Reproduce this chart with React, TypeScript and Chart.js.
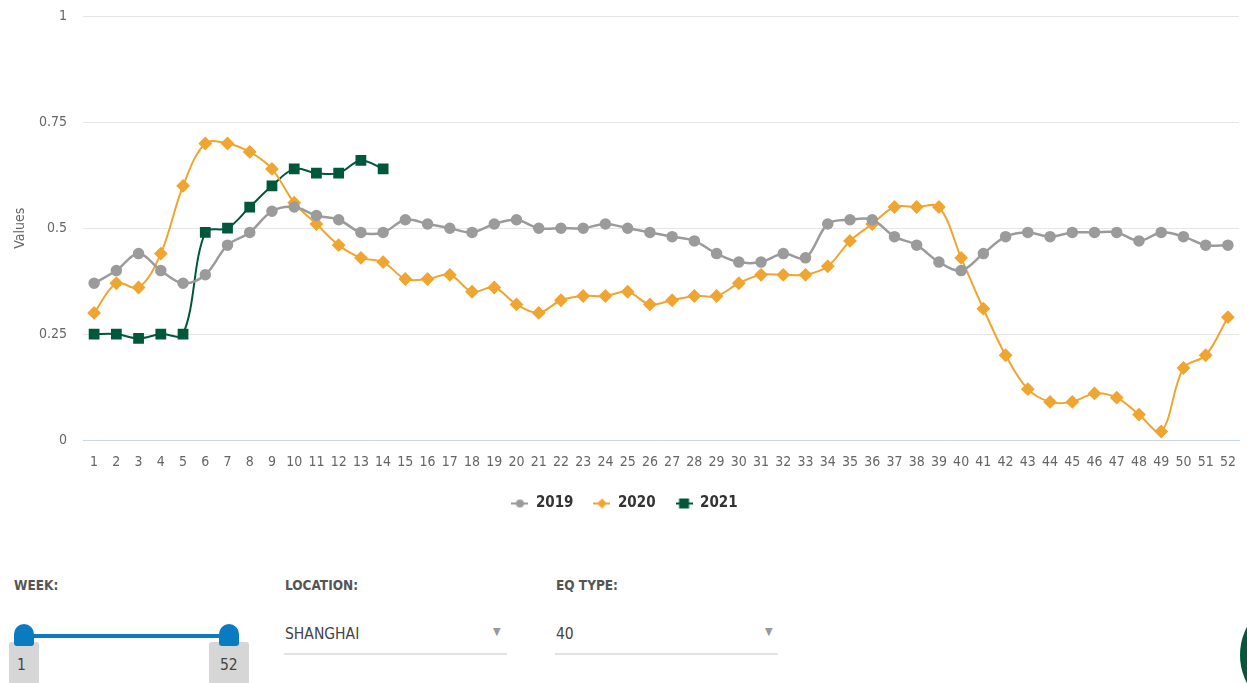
import React, { useEffect, useRef } from "react";
import { Chart, registerables } from "chart.js";

Chart.register(...registerables);

const weeks = [
  "1", "2", "3", "4", "5", "6", "7", "8", "9", "10", "11", "12", "13",
  "14", "15", "16", "17", "18", "19", "20", "21", "22", "23", "24", "25", "26",
  "27", "28", "29", "30", "31", "32", "33", "34", "35", "36", "37", "38", "39",
  "40", "41", "42", "43", "44", "45", "46", "47", "48", "49", "50", "51", "52",
];

const values2019 = [
  0.37, 0.4, 0.44, 0.4, 0.37, 0.39, 0.46, 0.49, 0.54, 0.55, 0.53, 0.52, 0.49,
  0.49, 0.52, 0.51, 0.5, 0.49, 0.51, 0.52, 0.5, 0.5, 0.5, 0.51, 0.5, 0.49,
  0.48, 0.47, 0.44, 0.42, 0.42, 0.44, 0.43, 0.51, 0.52, 0.52, 0.48, 0.46, 0.42,
  0.4, 0.44, 0.48, 0.49, 0.48, 0.49, 0.49, 0.49, 0.47, 0.49, 0.48, 0.46, 0.46,
];

const values2020 = [
  0.3, 0.37, 0.36, 0.44, 0.6, 0.7, 0.7, 0.68, 0.64, 0.56, 0.51, 0.46, 0.43,
  0.42, 0.38, 0.38, 0.39, 0.35, 0.36, 0.32, 0.3, 0.33, 0.34, 0.34, 0.35, 0.32,
  0.33, 0.34, 0.34, 0.37, 0.39, 0.39, 0.39, 0.41, 0.47, 0.51, 0.55, 0.55, 0.55,
  0.43, 0.31, 0.2, 0.12, 0.09, 0.09, 0.11, 0.1, 0.06, 0.02, 0.17, 0.2, 0.29,
];

const values2021 = [0.25, 0.25, 0.24, 0.25, 0.25, 0.49, 0.5, 0.55, 0.6, 0.64, 0.63, 0.63, 0.66, 0.64];

const seriesNames = ["2019", "2020", "2021"];
const yMin = 0;
const yMax = 1;
const yStep = 0.25;

const FONT = "'Liberation Sans Narrow', 'DejaVu Sans Condensed', 'Open Sans', sans-serif";
const GRAY = "#9b9b9b";
const ORANGE = "#efa52f";
const GREEN = "#00583a";

function legendIcon(color: string, shape: string): HTMLCanvasElement {
  const c = document.createElement("canvas");
  c.width = 17;
  c.height = 12;
  const ctx = c.getContext("2d")!;
  ctx.strokeStyle = color;
  ctx.fillStyle = color;
  ctx.lineWidth = 2;
  ctx.beginPath();
  ctx.moveTo(0, 6);
  ctx.lineTo(17, 6);
  ctx.stroke();
  ctx.beginPath();
  if (shape === "circle") {
    ctx.arc(8.5, 6, 4, 0, Math.PI * 2);
  } else if (shape === "diamond") {
    ctx.moveTo(8.5, 1);
    ctx.lineTo(13.5, 6);
    ctx.lineTo(8.5, 11);
    ctx.lineTo(3.5, 6);
    ctx.closePath();
  } else {
    ctx.rect(3.5, 1, 10, 10);
  }
  ctx.fill();
  return c;
}

function ChartView() {
  const ref = useRef<HTMLCanvasElement | null>(null);
  useEffect(() => {
    if (!ref.current) return;
    const icons = [legendIcon(GRAY, "circle"), legendIcon(ORANGE, "diamond"), legendIcon(GREEN, "square")];
    const chart = new Chart(ref.current, {
      type: "line",
      data: {
        labels: weeks,
        datasets: [
          {
            label: seriesNames[0],
            data: values2019,
            borderColor: GRAY,
            backgroundColor: GRAY,
            borderWidth: 2.5,
            pointStyle: "circle",
            pointRadius: 4.5,
            pointHoverRadius: 4.5,
            tension: 0.35,
          },
          {
            label: seriesNames[1],
            data: values2020,
            borderColor: ORANGE,
            backgroundColor: ORANGE,
            borderWidth: 2,
            pointStyle: "rectRot",
            pointRadius: 5.5,
            pointHoverRadius: 5.5,
            tension: 0.35,
          },
          {
            label: seriesNames[2],
            data: values2021,
            borderColor: GREEN,
            backgroundColor: GREEN,
            borderWidth: 2,
            pointStyle: "rect",
            pointRadius: 6.2,
            pointHoverRadius: 6.2,
            tension: 0.35,
          },
        ],
      },
      options: {
        responsive: false,
        animation: false,
        layout: { padding: { top: 0, right: 1, bottom: 0, left: 0 } },
        plugins: {
          tooltip: { enabled: false },
          legend: {
            position: "bottom",
            labels: {
              usePointStyle: true,
              pointStyleWidth: 17,
              padding: 20,
              color: "#333333",
              font: { family: FONT, size: 15, weight: "bold" },
              generateLabels: (ch: any) => {
                const base = Chart.defaults.plugins.legend.labels.generateLabels(ch);
                return base.map((l: any, i: number) => ({ ...l, pointStyle: icons[i], lineWidth: 0 }));
              },
            },
          },
        },
        scales: {
          x: {
            type: "category",
            offset: true,
            grid: { display: false, drawTicks: false, offset: true },
            border: { display: true, color: "#ccd6eb", width: 1 },
            ticks: {
              color: "#666666",
              font: { family: FONT, size: 14 },
              padding: 14,
              maxRotation: 0,
              autoSkip: false,
            },
            afterFit: (scale: any) => {
              scale.height = 36;
            },
          },
          y: {
            min: yMin,
            max: yMax,
            grid: { color: "#e6e6e6", drawTicks: true, tickLength: 8, tickColor: "rgba(0,0,0,0)", lineWidth: 1 },
            border: { display: false },
            ticks: {
              stepSize: yStep,
              color: "#666666",
              font: { family: FONT, size: 14 },
              padding: 8,
              callback: (v: any) => String(Number(v)),
            },
            title: {
              display: true,
              text: "Values",
              color: "#666666",
              font: { family: FONT, size: 14 },
              padding: { top: 12, bottom: 0 },
            },
            afterFit: (scale: any) => {
              scale.width = 83;
            },
          },
        },
      },
    });
    return () => chart.destroy();
  }, []);
  return <canvas ref={ref} width={1250} height={521} style={{ display: "block", width: 1250, height: 521 }} />;
}

const labelStyle: React.CSSProperties = {
  position: "absolute",
  fontFamily: FONT,
  fontWeight: "bold",
  fontSize: 13.5,
  color: "#555555",
  margin: 0,
};

const valueStyle: React.CSSProperties = {
  position: "absolute",
  fontFamily: FONT,
  fontSize: 15.5,
  color: "#444444",
};

export default function App() {
  return (
    <div
      style={{
        position: "absolute",
        left: 0,
        top: 0,
        width: 1247,
        height: 683,
        overflow: "hidden",
        background: "#ffffff",
      }}
    >
      <ChartView />
      <div style={{ ...labelStyle, left: 14, top: 577 }}>WEEK:</div>
      <div style={{ ...labelStyle, left: 285, top: 577 }}>LOCATION:</div>
      <div style={{ ...labelStyle, left: 556, top: 577 }}>EQ TYPE:</div>

      {/* week slider */}
      <div style={{ position: "absolute", left: 24, top: 634, width: 205, height: 4, background: "#0a7bc0" }} />
      <div style={{ position: "absolute", left: 9, top: 642, width: 30, height: 45, background: "#d6d6d6", borderRadius: 3 }} />
      <div style={{ position: "absolute", left: 209, top: 642, width: 40, height: 45, background: "#d6d6d6", borderRadius: 3 }} />
      <div style={{ position: "absolute", left: 14, top: 624, width: 20, height: 22, background: "#0a7bc0", borderRadius: "10px 10px 3px 3px" }} />
      <div style={{ position: "absolute", left: 219, top: 624, width: 20, height: 22, background: "#0a7bc0", borderRadius: "10px 10px 3px 3px" }} />
      <div style={{ ...valueStyle, left: 17, top: 656 }}>1</div>
      <div style={{ ...valueStyle, left: 220, top: 656 }}>52</div>

      {/* location select */}
      <div style={{ ...valueStyle, left: 285, top: 625 }}>SHANGHAI</div>
      <div style={{ position: "absolute", left: 493, top: 625, fontSize: 11, color: "#999999", fontFamily: FONT }}>▼</div>
      <div style={{ position: "absolute", left: 284, top: 653, width: 223, height: 2, background: "#e3e3e3" }} />

      {/* eq type select */}
      <div style={{ ...valueStyle, left: 556, top: 625 }}>40</div>
      <div style={{ position: "absolute", left: 765, top: 625, fontSize: 11, color: "#999999", fontFamily: FONT }}>▼</div>
      <div style={{ position: "absolute", left: 555, top: 653, width: 223, height: 2, background: "#e3e3e3" }} />

      {/* floating button */}
      <div style={{ position: "absolute", left: 1240, top: 595, width: 120, height: 120, borderRadius: "50%", background: "#00583a" }} />
    </div>
  );
}
